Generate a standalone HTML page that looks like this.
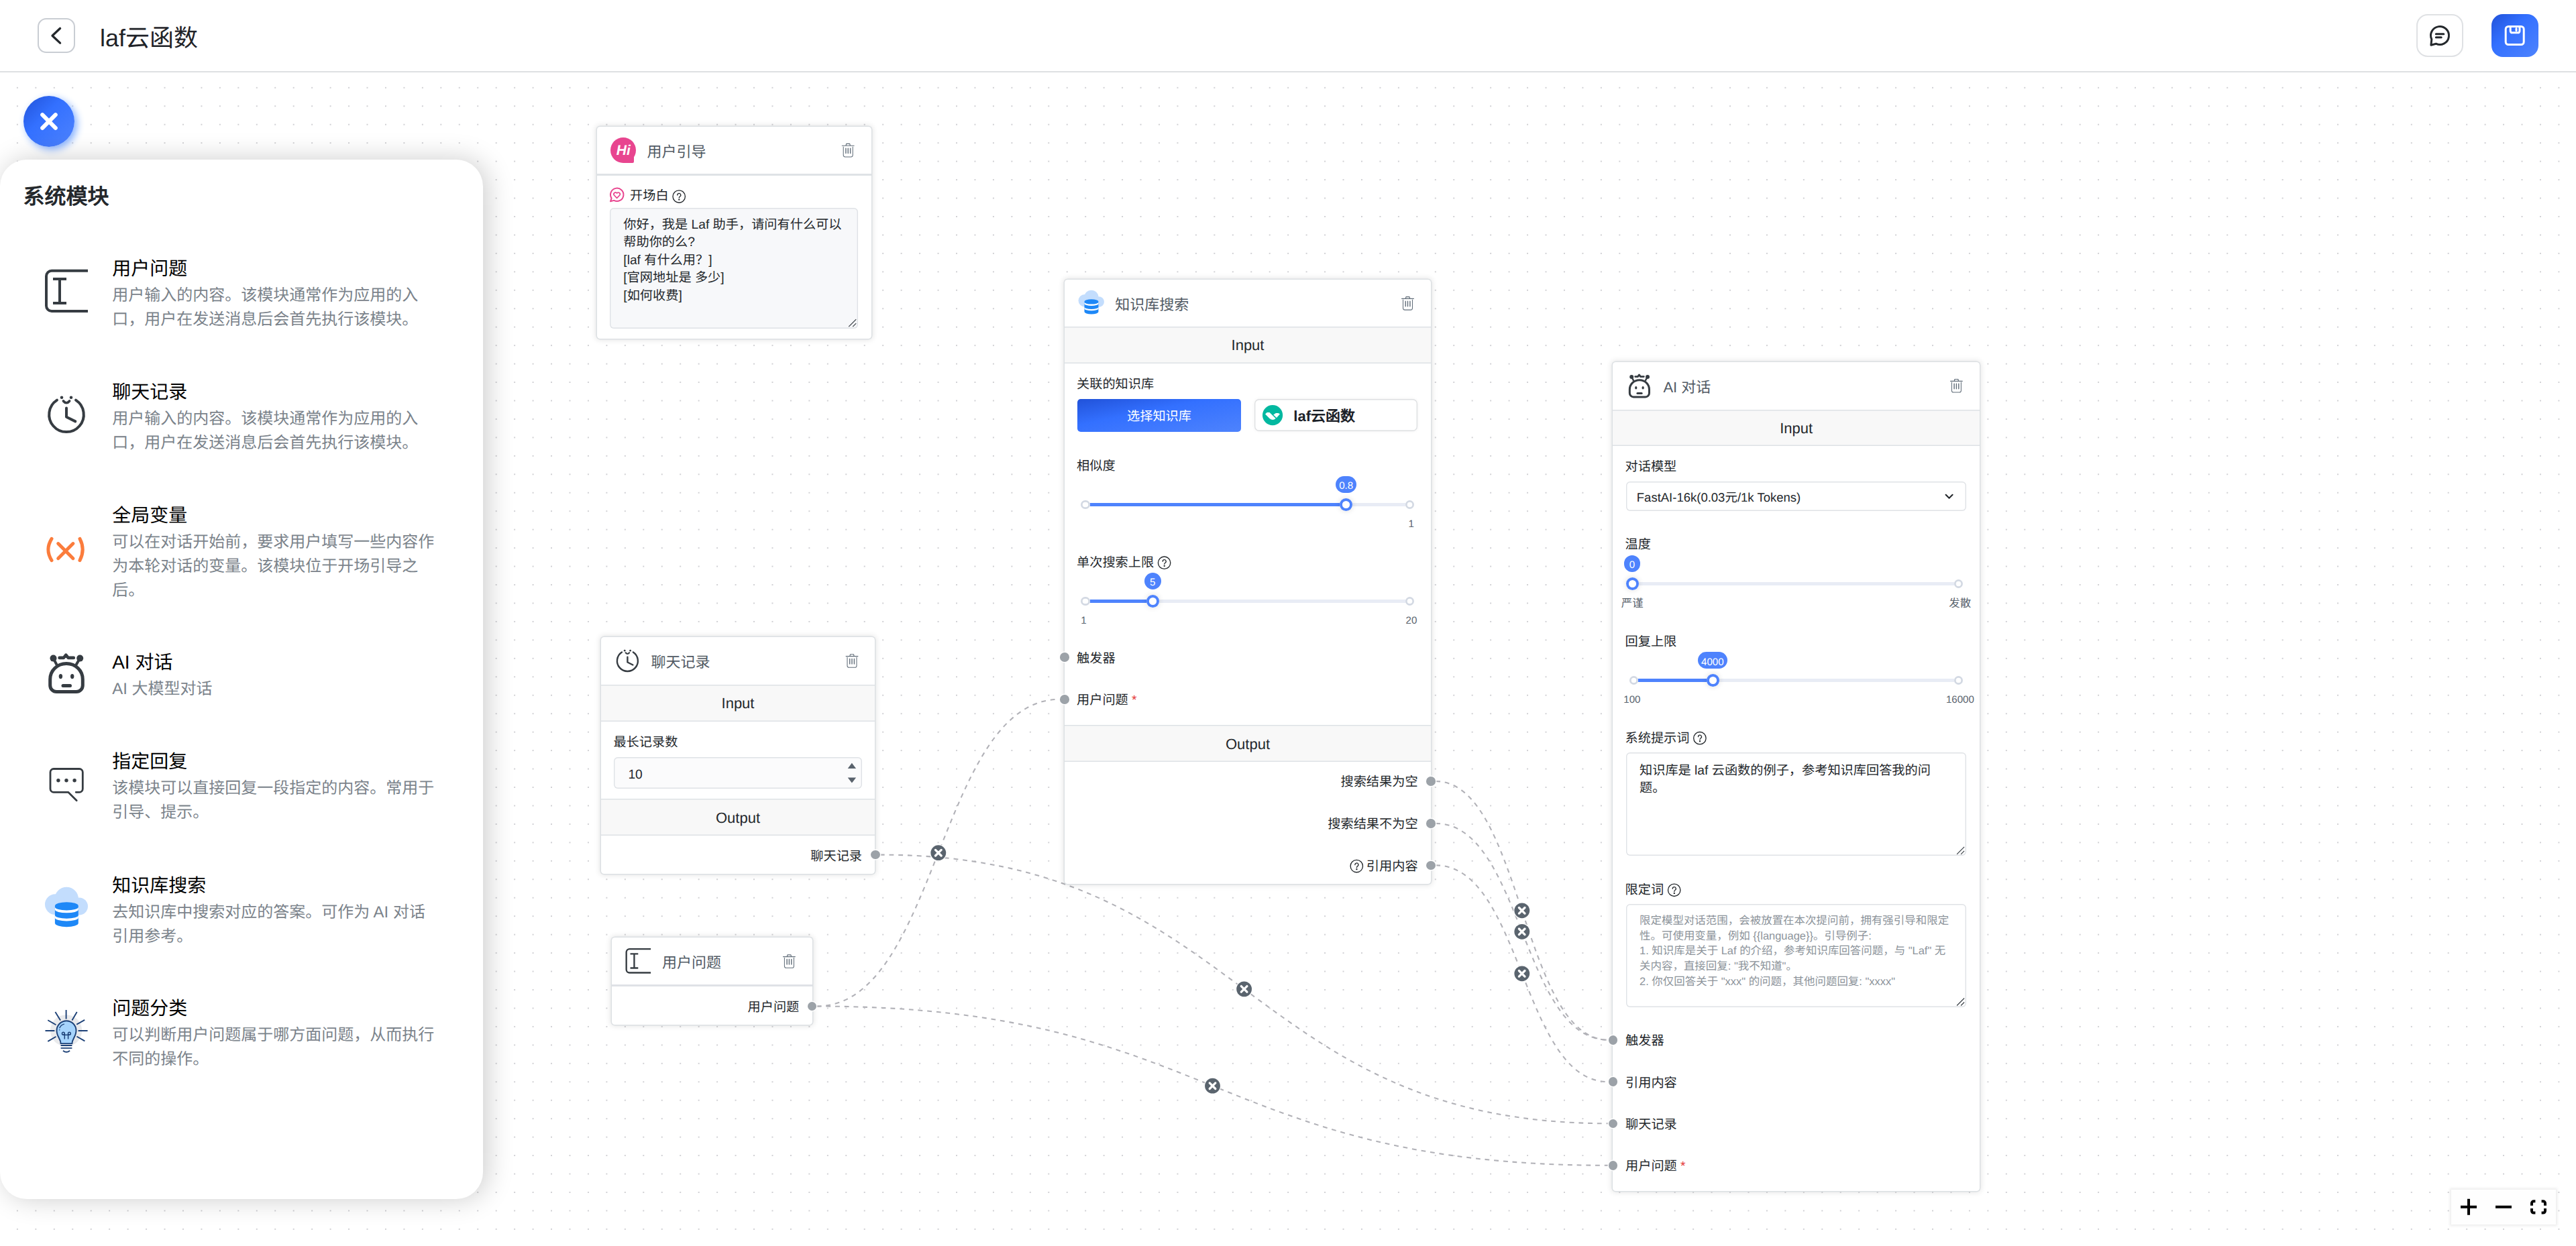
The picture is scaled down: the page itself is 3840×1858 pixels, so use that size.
<!DOCTYPE html>
<html lang="zh-CN">
<head>
<meta charset="utf-8">
<title>laf云函数</title>
<style>
html,body{margin:0;padding:0;}
body{width:3840px;height:1858px;overflow:hidden;background:#fff;position:relative;text-rendering:geometricPrecision;font-family:"Liberation Sans",sans-serif;color:#24282c;}
.t{position:absolute;white-space:nowrap;font-family:"Liberation Sans",sans-serif;}
.t i{display:inline-block;width:1em;text-align:center;font-style:normal;}
.b{position:absolute;box-sizing:border-box;}
svg{position:absolute;left:0;top:0;overflow:visible;}
.node{position:absolute;box-sizing:border-box;background:#fff;border-radius:4.6px;box-shadow:0 0 0 1.45px #dce0e3,0 0 8px 1.45px rgba(0,0,0,0.11);}
.bar{position:absolute;box-sizing:border-box;background:#f8f8f8;box-shadow:inset 0 1.5px 0 #dde1e5,inset 0 -1.5px 0 #dde1e5;}
.hd{position:absolute;width:13.7px;height:13.7px;border-radius:50%;background:#9ca2a8;box-shadow:0 0 0 1.4px #fff;}
.ta{position:absolute;box-sizing:border-box;border-radius:6px;box-shadow:inset 0 0 0 1.4px #dfe2e6;}
</style>
</head>
<body>

<svg width="3840" height="1858" viewBox="0 0 3840 1858">
<defs><pattern id="dots" x="12.173" y="117.074" width="27.453" height="27.453" patternUnits="userSpaceOnUse"><circle cx="13.726" cy="13.726" r="0.78" fill="#91919a"/></pattern></defs>
<rect x="0" y="108" width="3840" height="1750" fill="url(#dots)"/>
<path d="M1311.7,1274.6 C1854.6,1274.6 1854.6,1675.3 2397.4,1675.3" fill="none" stroke="#b1b1b7" stroke-width="2.06" stroke-dasharray="6.86 6.86"/>
<path d="M1217.5,1500.5 C1398.8,1500.5 1398.8,1042.8 1580.0,1042.8" fill="none" stroke="#b1b1b7" stroke-width="2.06" stroke-dasharray="6.86 6.86"/>
<path d="M1217.5,1500.5 C1807.5,1500.5 1807.5,1737.8 2397.4,1737.8" fill="none" stroke="#b1b1b7" stroke-width="2.06" stroke-dasharray="6.86 6.86"/>
<path d="M2140.1,1165.0 C2268.8,1165.0 2268.8,1550.7 2397.4,1550.7" fill="none" stroke="#b1b1b7" stroke-width="2.06" stroke-dasharray="6.86 6.86"/>
<path d="M2140.1,1227.9 C2268.8,1227.9 2268.8,1550.7 2397.4,1550.7" fill="none" stroke="#b1b1b7" stroke-width="2.06" stroke-dasharray="6.86 6.86"/>
<path d="M2140.1,1290.3 C2268.8,1290.3 2268.8,1613.2 2397.4,1613.2" fill="none" stroke="#b1b1b7" stroke-width="2.06" stroke-dasharray="6.86 6.86"/>
</svg>
<div class="node" style="left:889.6px;top:189.0px;width:409.0px;height:315.6px;"></div>
<div class="b" style="left:910.0px;top:205.0px;width:38.0px;height:38.0px;border-radius:50%;background:#e8458f;"></div>
<div class="b" style="left:929.0px;top:226.0px;width:16.2px;height:16.9px;border-radius:0 0 2px 0;background:#e8458f;"></div>
<div class="t" style="left:929.3px;top:212.2px;font-size:21px;line-height:26px;color:#fff;font-weight:bold;transform:translateX(-50%);font-style:italic;">Hi</div>
<div class="t" style="left:964.6px;top:211.0px;font-size:22px;line-height:32px;color:#515a64;"><i>用</i><i>户</i><i>引</i><i>导</i></div>
<div class="b" style="left:889.6px;top:259.0px;width:409.0px;height:2.8px;background:#dfe2e6;"></div>
<div class="t" style="left:939.0px;top:278.7px;font-size:19.2px;line-height:28px;color:#24282c;"><i>开</i><i>场</i><i>白</i></div>
<div class="ta" style="left:909.4px;top:310px;width:369.3px;height:179.7px;background:#f7f8fa;"></div>
<div class="t" style="left:929.3px;top:323.0px;font-size:19.2px;line-height:26px;color:#24282c;"><i>你</i><i>好</i><i>，</i><i>我</i><i>是</i> Laf <i>助</i><i>手</i><i>，</i><i>请</i><i>问</i><i>有</i><i>什</i><i>么</i><i>可</i><i>以</i></div>
<div class="t" style="left:929.3px;top:349.4px;font-size:19.2px;line-height:26px;color:#24282c;"><i>帮</i><i>助</i><i>你</i><i>的</i><i>么</i>?</div>
<div class="t" style="left:929.3px;top:375.8px;font-size:19.2px;line-height:26px;color:#24282c;">[laf <i>有</i><i>什</i><i>么</i><i>用</i><i>？</i>]</div>
<div class="t" style="left:929.3px;top:402.2px;font-size:19.2px;line-height:26px;color:#24282c;">[<i>官</i><i>网</i><i>地</i><i>址</i><i>是</i> <i>多</i><i>少</i>]</div>
<div class="t" style="left:929.3px;top:428.6px;font-size:19.2px;line-height:26px;color:#24282c;">[<i>如</i><i>何</i><i>收</i><i>费</i>]</div>
<div class="node" style="left:1587.2px;top:417.2px;width:545.7px;height:901.2px;"></div>
<div class="t" style="left:1662.2px;top:439.2px;font-size:22px;line-height:32px;color:#515a64;"><i>知</i><i>识</i><i>库</i><i>搜</i><i>索</i></div>
<div class="bar" style="left:1587.2px;top:486.7px;width:545.7px;height:55.0px;"></div>
<div class="t" style="left:1860.0px;top:500.0px;font-size:22px;line-height:30px;color:#24282c;transform:translateX(-50%);">Input</div>
<div class="t" style="left:1605.0px;top:560.0px;font-size:19.2px;line-height:28px;color:#24282c;"><i>关</i><i>联</i><i>的</i><i>知</i><i>识</i><i>库</i></div>
<div class="b" style="left:1606.0px;top:594.6px;width:244.0px;height:49.1px;border-radius:5px;background-image:linear-gradient(to bottom right,#2152d9 0%,#3370ff 40%,#4e83fd 100%);"></div>
<div class="t" style="left:1728.0px;top:607.7px;font-size:19.2px;line-height:28px;color:#fff;transform:translateX(-50%);"><i>选</i><i>择</i><i>知</i><i>识</i><i>库</i></div>
<div class="b" style="left:1870.0px;top:594.9px;width:243.4px;height:48.5px;border-radius:7px;background:#fff;box-shadow:inset 0 0 0 1.4px #dee0e2,0 0 5px rgba(0,0,0,0.06);"></div>
<div class="t" style="left:1928.3px;top:605.6px;font-size:22px;line-height:30px;color:#1c2128;font-weight:bold;">laf<i>云</i><i>函</i><i>数</i></div>
<div class="t" style="left:1605.0px;top:681.9px;font-size:19.2px;line-height:28px;color:#24282c;"><i>相</i><i>似</i><i>度</i></div>
<div class="b" style="left:1615.5px;top:749.8px;width:486.3px;height:5.2px;background:#e8ecf5;border-radius:2.6px;"></div>
<div class="b" style="left:1615.5px;top:749.8px;width:391.4px;height:5.2px;background:#4e83fd;border-radius:2.6px;"></div>
<div class="b" style="left:1611.3px;top:745.7px;width:13.4px;height:13.4px;border-radius:50%;background:#fff;box-shadow:inset 0 0 0 2.7px #d3d9e3;"></div>
<div class="b" style="left:2094.8px;top:745.7px;width:13.4px;height:13.4px;border-radius:50%;background:#fff;box-shadow:inset 0 0 0 2.7px #d3d9e3;"></div>
<div class="b" style="left:1997.4px;top:742.9px;width:19.0px;height:19.0px;border-radius:50%;background:#fff;box-shadow:inset 0 0 0 3.9px #4e83fd,0 0 9px rgba(0,0,0,0.14);"></div>
<div class="b" style="left:1991.2px;top:710.2px;width:31.0px;height:24.9px;border-radius:12.45px;background:#4e83fd;"></div>
<div class="t" style="left:2006.7px;top:715.3px;font-size:15.1px;line-height:20px;color:#fff;transform:translateX(-50%);">0.8</div>
<div class="t" style="left:2103.6px;top:770.8px;font-size:15.1px;line-height:22px;color:#5a646e;transform:translateX(-50%);">1</div>
<div class="t" style="left:1605.0px;top:826.0px;font-size:19.2px;line-height:28px;color:#24282c;"><i>单</i><i>次</i><i>搜</i><i>索</i><i>上</i><i>限</i></div>
<div class="b" style="left:1615.5px;top:893.6px;width:486.3px;height:5.2px;background:#e8ecf5;border-radius:2.6px;"></div>
<div class="b" style="left:1615.5px;top:893.6px;width:103.0px;height:5.2px;background:#4e83fd;border-radius:2.6px;"></div>
<div class="b" style="left:1611.3px;top:889.5px;width:13.4px;height:13.4px;border-radius:50%;background:#fff;box-shadow:inset 0 0 0 2.7px #d3d9e3;"></div>
<div class="b" style="left:2094.8px;top:889.5px;width:13.4px;height:13.4px;border-radius:50%;background:#fff;box-shadow:inset 0 0 0 2.7px #d3d9e3;"></div>
<div class="b" style="left:1709.0px;top:886.7px;width:19.0px;height:19.0px;border-radius:50%;background:#fff;box-shadow:inset 0 0 0 3.9px #4e83fd,0 0 9px rgba(0,0,0,0.14);"></div>
<div class="b" style="left:1706.0px;top:854.0px;width:24.5px;height:24.9px;border-radius:12.45px;background:#4e83fd;"></div>
<div class="t" style="left:1718.3px;top:859.1px;font-size:15.1px;line-height:20px;color:#fff;transform:translateX(-50%);">5</div>
<div class="t" style="left:1615.4px;top:914.6px;font-size:15.1px;line-height:22px;color:#5a646e;transform:translateX(-50%);">1</div>
<div class="t" style="left:2104.0px;top:914.6px;font-size:15.1px;line-height:22px;color:#5a646e;transform:translateX(-50%);">20</div>
<div class="hd" style="left:1580.1px;top:973.4px;"></div>
<div class="t" style="left:1605.0px;top:968.6px;font-size:19.2px;line-height:28px;color:#24282c;"><i>触</i><i>发</i><i>器</i></div>
<div class="hd" style="left:1580.1px;top:1036.0px;"></div>
<div class="t" style="left:1605.0px;top:1031.1px;font-size:19.2px;line-height:28px;color:#24282c;"><i>用</i><i>户</i><i>问</i><i>题</i> <span style="color:#e53e3e;">*</span></div>
<div class="bar" style="left:1587.2px;top:1081.1px;width:545.7px;height:54.6px;"></div>
<div class="t" style="left:1860.0px;top:1095.4px;font-size:22px;line-height:30px;color:#24282c;transform:translateX(-50%);">Output</div>
<div class="t" style="left:2113.6px;top:1153.3px;font-size:19.2px;line-height:28px;color:#24282c;transform:translateX(-100%);"><i>搜</i><i>索</i><i>结</i><i>果</i><i>为</i><i>空</i></div>
<div class="hd" style="left:2126.3px;top:1158.2px;"></div>
<div class="t" style="left:2113.6px;top:1216.2px;font-size:19.2px;line-height:28px;color:#24282c;transform:translateX(-100%);"><i>搜</i><i>索</i><i>结</i><i>果</i><i>不</i><i>为</i><i>空</i></div>
<div class="hd" style="left:2126.3px;top:1221.1px;"></div>
<div class="t" style="left:2113.6px;top:1278.6px;font-size:19.2px;line-height:28px;color:#24282c;transform:translateX(-100%);"><i>引</i><i>用</i><i>内</i><i>容</i></div>
<div class="hd" style="left:2126.3px;top:1283.5px;"></div>
<div class="node" style="left:2404.4px;top:540.1px;width:546.4px;height:1236.0px;"></div>
<div class="t" style="left:2479.4px;top:562.1px;font-size:22px;line-height:32px;color:#515a64;">AI <i>对</i><i>话</i></div>
<div class="bar" style="left:2404.4px;top:610.7px;width:546.4px;height:54.7px;"></div>
<div class="t" style="left:2677.6px;top:624.0px;font-size:22px;line-height:30px;color:#24282c;transform:translateX(-50%);">Input</div>
<div class="t" style="left:2422.5px;top:683.1px;font-size:19.2px;line-height:28px;color:#24282c;"><i>对</i><i>话</i><i>模</i><i>型</i></div>
<div class="ta" style="left:2423.9px;top:718.3px;width:507.2px;height:44.1px;background:#fff;"></div>
<div class="t" style="left:2439.8px;top:729.1px;font-size:18.5px;line-height:26px;color:#24282c;">FastAI-16k(0.03<i>元</i>/1k Tokens)</div>
<div class="t" style="left:2422.5px;top:799.3px;font-size:19.2px;line-height:28px;color:#24282c;"><i>温</i><i>度</i></div>
<div class="b" style="left:2433.0px;top:867.9px;width:486.6px;height:5.2px;background:#e8ecf5;border-radius:2.6px;"></div>
<div class="b" style="left:2912.6px;top:863.8px;width:13.4px;height:13.4px;border-radius:50%;background:#fff;box-shadow:inset 0 0 0 2.7px #d3d9e3;"></div>
<div class="b" style="left:2423.7px;top:861.0px;width:19.0px;height:19.0px;border-radius:50%;background:#fff;box-shadow:inset 0 0 0 3.9px #4e83fd,0 0 9px rgba(0,0,0,0.14);"></div>
<div class="b" style="left:2420.8px;top:828.3px;width:24.5px;height:24.9px;border-radius:12.45px;background:#4e83fd;"></div>
<div class="t" style="left:2433.0px;top:833.4px;font-size:15.1px;line-height:20px;color:#fff;transform:translateX(-50%);">0</div>
<div class="t" style="left:2433.3px;top:888.9px;font-size:16.47px;line-height:22px;color:#5a646e;transform:translateX(-50%);"><i>严</i><i>谨</i></div>
<div class="t" style="left:2921.7px;top:888.9px;font-size:16.47px;line-height:22px;color:#5a646e;transform:translateX(-50%);"><i>发</i><i>散</i></div>
<div class="t" style="left:2422.5px;top:943.6px;font-size:19.2px;line-height:28px;color:#24282c;"><i>回</i><i>复</i><i>上</i><i>限</i></div>
<div class="b" style="left:2433.0px;top:1012.0px;width:486.6px;height:5.2px;background:#e8ecf5;border-radius:2.6px;"></div>
<div class="b" style="left:2433.0px;top:1012.0px;width:120.0px;height:5.2px;background:#4e83fd;border-radius:2.6px;"></div>
<div class="b" style="left:2428.8px;top:1007.9px;width:13.4px;height:13.4px;border-radius:50%;background:#fff;box-shadow:inset 0 0 0 2.7px #d3d9e3;"></div>
<div class="b" style="left:2912.6px;top:1007.9px;width:13.4px;height:13.4px;border-radius:50%;background:#fff;box-shadow:inset 0 0 0 2.7px #d3d9e3;"></div>
<div class="b" style="left:2543.5px;top:1005.1px;width:19.0px;height:19.0px;border-radius:50%;background:#fff;box-shadow:inset 0 0 0 3.9px #4e83fd,0 0 9px rgba(0,0,0,0.14);"></div>
<div class="b" style="left:2530.5px;top:972.4px;width:44.6px;height:24.9px;border-radius:12.45px;background:#4e83fd;"></div>
<div class="t" style="left:2552.8px;top:977.5px;font-size:15.1px;line-height:20px;color:#fff;transform:translateX(-50%);">4000</div>
<div class="t" style="left:2432.9px;top:1033.0px;font-size:15.1px;line-height:22px;color:#5a646e;transform:translateX(-50%);">100</div>
<div class="t" style="left:2921.9px;top:1033.0px;font-size:15.1px;line-height:22px;color:#5a646e;transform:translateX(-50%);">16000</div>
<div class="t" style="left:2422.5px;top:1087.7px;font-size:19.2px;line-height:28px;color:#24282c;"><i>系</i><i>统</i><i>提</i><i>示</i><i>词</i></div>
<div class="ta" style="left:2424.2px;top:1122.0px;width:506.4px;height:154.3px;background:#fff;"></div>
<div class="t" style="left:2444.0px;top:1136.5px;font-size:19.2px;line-height:26px;color:#24282c;"><i>知</i><i>识</i><i>库</i><i>是</i> laf <i>云</i><i>函</i><i>数</i><i>的</i><i>例</i><i>子</i><i>，</i><i>参</i><i>考</i><i>知</i><i>识</i><i>库</i><i>回</i><i>答</i><i>我</i><i>的</i><i>问</i></div>
<div class="t" style="left:2444.0px;top:1163.1px;font-size:19.2px;line-height:26px;color:#24282c;"><i>题</i><i>。</i></div>
<div class="t" style="left:2422.5px;top:1314.3px;font-size:19.2px;line-height:28px;color:#24282c;"><i>限</i><i>定</i><i>词</i></div>
<div class="ta" style="left:2424.2px;top:1348.4px;width:506.4px;height:153.6px;background:#fff;"></div>
<div class="t" style="left:2444.0px;top:1362.3px;font-size:16.47px;line-height:22px;color:#8d949b;"><i>限</i><i>定</i><i>模</i><i>型</i><i>对</i><i>话</i><i>范</i><i>围</i><i>，</i><i>会</i><i>被</i><i>放</i><i>置</i><i>在</i><i>本</i><i>次</i><i>提</i><i>问</i><i>前</i><i>，</i><i>拥</i><i>有</i><i>强</i><i>引</i><i>导</i><i>和</i><i>限</i><i>定</i></div>
<div class="t" style="left:2444.0px;top:1384.8px;font-size:16.47px;line-height:22px;color:#8d949b;"><i>性</i><i>。</i><i>可</i><i>使</i><i>用</i><i>变</i><i>量</i><i>，</i><i>例</i><i>如</i> {{language}}<i>。</i><i>引</i><i>导</i><i>例</i><i>子</i>:</div>
<div class="t" style="left:2444.0px;top:1407.4px;font-size:16.47px;line-height:22px;color:#8d949b;">1. <i>知</i><i>识</i><i>库</i><i>是</i><i>关</i><i>于</i> Laf <i>的</i><i>介</i><i>绍</i><i>，</i><i>参</i><i>考</i><i>知</i><i>识</i><i>库</i><i>回</i><i>答</i><i>问</i><i>题</i><i>，</i><i>与</i> "Laf" <i>无</i></div>
<div class="t" style="left:2444.0px;top:1430.0px;font-size:16.47px;line-height:22px;color:#8d949b;"><i>关</i><i>内</i><i>容</i><i>，</i><i>直</i><i>接</i><i>回</i><i>复</i>: "<i>我</i><i>不</i><i>知</i><i>道</i>"<i>。</i></div>
<div class="t" style="left:2444.0px;top:1452.5px;font-size:16.47px;line-height:22px;color:#8d949b;">2. <i>你</i><i>仅</i><i>回</i><i>答</i><i>关</i><i>于</i> "xxx" <i>的</i><i>问</i><i>题</i><i>，</i><i>其</i><i>他</i><i>问</i><i>题</i><i>回</i><i>复</i>: "xxxx"</div>
<div class="hd" style="left:2397.5px;top:1543.9px;"></div>
<div class="t" style="left:2423.0px;top:1539.0px;font-size:19.2px;line-height:28px;color:#24282c;"><i>触</i><i>发</i><i>器</i></div>
<div class="hd" style="left:2397.5px;top:1606.4px;"></div>
<div class="t" style="left:2423.0px;top:1601.5px;font-size:19.2px;line-height:28px;color:#24282c;"><i>引</i><i>用</i><i>内</i><i>容</i></div>
<div class="hd" style="left:2397.5px;top:1668.5px;"></div>
<div class="t" style="left:2423.0px;top:1663.6px;font-size:19.2px;line-height:28px;color:#24282c;"><i>聊</i><i>天</i><i>记</i><i>录</i></div>
<div class="hd" style="left:2397.5px;top:1731.0px;"></div>
<div class="t" style="left:2423.0px;top:1726.1px;font-size:19.2px;line-height:28px;color:#24282c;"><i>用</i><i>户</i><i>问</i><i>题</i> <span style="color:#e53e3e;">*</span></div>
<div class="node" style="left:895.6px;top:950.4px;width:408.8px;height:352.2px;"></div>
<div class="t" style="left:970.6px;top:972.4px;font-size:22px;line-height:32px;color:#515a64;"><i>聊</i><i>天</i><i>记</i><i>录</i></div>
<div class="bar" style="left:895.6px;top:1020.7px;width:408.8px;height:54.9px;"></div>
<div class="t" style="left:1100.0px;top:1034.0px;font-size:22px;line-height:30px;color:#24282c;transform:translateX(-50%);">Input</div>
<div class="t" style="left:914.4px;top:1093.9px;font-size:19.2px;line-height:28px;color:#24282c;"><i>最</i><i>长</i><i>记</i><i>录</i><i>数</i></div>
<div class="ta" style="left:915.4px;top:1129.1px;width:369.6px;height:46.7px;background:#fbfbfc;"></div>
<div class="t" style="left:936.4px;top:1141.6px;font-size:19.2px;line-height:28px;color:#24282c;">10</div>
<div class="bar" style="left:895.6px;top:1190.7px;width:408.8px;height:55.3px;"></div>
<div class="t" style="left:1100.0px;top:1204.7px;font-size:22px;line-height:30px;color:#24282c;transform:translateX(-50%);">Output</div>
<div class="t" style="left:1285.0px;top:1263.5px;font-size:19.2px;line-height:28px;color:#24282c;transform:translateX(-100%);"><i>聊</i><i>天</i><i>记</i><i>录</i></div>
<div class="hd" style="left:1298.0px;top:1267.8px;"></div>
<div class="node" style="left:912.0px;top:1398.4px;width:298.8px;height:129.7px;"></div>
<div class="t" style="left:987.0px;top:1420.4px;font-size:22px;line-height:32px;color:#515a64;"><i>用</i><i>户</i><i>问</i><i>题</i></div>
<div class="b" style="left:912.0px;top:1468.0px;width:298.8px;height:2.7px;background:#dfe2e6;"></div>
<div class="t" style="left:1191.3px;top:1488.8px;font-size:19.2px;line-height:28px;color:#24282c;transform:translateX(-100%);"><i>用</i><i>户</i><i>问</i><i>题</i></div>
<div class="hd" style="left:1203.8px;top:1493.7px;"></div>
<svg width="3840" height="1858" viewBox="0 0 3840 1858">
<g transform="translate(1264.2,223.9)" fill="none" stroke="#616d79" stroke-linecap="round" stroke-linejoin="round"><path d="M-8.9,-6.7 H8.9 M-3.2,-6.7 L-2.5,-9.5 H2.5 L3.2,-6.7" stroke-width="1.15"/><path d="M-7,-5 V7.4 a2.6,2.6 0 0 0 2.6,2.6 H4.4 a2.6,2.6 0 0 0 2.6,-2.6 V-5" stroke-width="1.05"/><path d="M-3.3,-2.8 V4.7 M0,-2.8 V4.7 M3.4,-2.8 V4.7" stroke-width="1.4"/></g>
<g fill="none" stroke="#e8458f" stroke-width="2" stroke-linejoin="round"><path d="M911.6,295.6 L910,300.3 L915.2,298.9 A9.7,9.7 0 1 0 911.6,295.6 Z"/><path d="M919.6,295.3 L915.4,291.0 a2.55,2.55 0 0 1 4.2,-2.9 a2.55,2.55 0 0 1 4.2,2.9 Z" stroke-width="1.7"/></g>
<g transform="translate(1012.2,293.0)" fill="none" stroke="#24282c" stroke-width="1.35" stroke-linecap="round"><circle cx="0" cy="0" r="9.2"/><path d="M-2.4,-2.0 a2.5,2.5 0 1 1 3.8,2.0 c-0.9,0.6 -1.3,1.1 -1.3,2.1" stroke-width="1.3"/><circle cx="0.1" cy="4.6" r="0.5" fill="#24282c"/></g>
<path d="M1265.2,487.2 L1276.2,476.2 M1271.2,487.2 L1276.2,482.2" stroke="#3c4248" stroke-width="1.2" fill="none"/>
<g transform="translate(1606.95,432.00) scale(0.6000)"><circle cx="33.2" cy="19" r="17.8" fill="#c3ddfd"/><circle cx="16.4" cy="27.1" r="15.4" fill="#c3ddfd"/><circle cx="52" cy="30" r="13" fill="#c3ddfd"/><rect x="16.4" y="28" width="35.6" height="15" fill="#c3ddfd"/><path d="M15.9,29.4 A17.45,5.7 0 0 1 50.8,29.4 V55.1 A17.45,5.6 0 0 1 15.9,55.1 Z" fill="#1e88f7"/><path d="M15.9,30.95 A17.45,5 0 0 0 50.8,30.95 V34.85 A17.45,5 0 0 1 15.9,34.85 Z M15.9,43.15 A17.45,5 0 0 0 50.8,43.15 V47.05 A17.45,5 0 0 1 15.9,47.05 Z" fill="#fff"/></g>
<g transform="translate(2098.5,452.1)" fill="none" stroke="#616d79" stroke-linecap="round" stroke-linejoin="round"><path d="M-8.9,-6.7 H8.9 M-3.2,-6.7 L-2.5,-9.5 H2.5 L3.2,-6.7" stroke-width="1.15"/><path d="M-7,-5 V7.4 a2.6,2.6 0 0 0 2.6,2.6 H4.4 a2.6,2.6 0 0 0 2.6,-2.6 V-5" stroke-width="1.05"/><path d="M-3.3,-2.8 V4.7 M0,-2.8 V4.7 M3.4,-2.8 V4.7" stroke-width="1.4"/></g>
<circle cx="1897.05" cy="619.1" r="15.1" fill="#02b8a0"/><path d="M1886.05,617.5 L1888.7,614.9 H1892.5 L1901.7,624 Q1899.6,626.1 1897.3,626.1 Q1894.8,626.1 1892.5,624.1 Z" fill="#fff"/><path d="M1898.3,618.5 L1901.9,615.9 H1905.3 L1908,617.2 L1903,623 Z" fill="#fff"/>
<g transform="translate(1735.6,839.2)" fill="none" stroke="#24282c" stroke-width="1.35" stroke-linecap="round"><circle cx="0" cy="0" r="9.2"/><path d="M-2.4,-2.0 a2.5,2.5 0 1 1 3.8,2.0 c-0.9,0.6 -1.3,1.1 -1.3,2.1" stroke-width="1.3"/><circle cx="0.1" cy="4.6" r="0.5" fill="#24282c"/></g>
<g transform="translate(2022.3,1291.6)" fill="none" stroke="#24282c" stroke-width="1.35" stroke-linecap="round"><circle cx="0" cy="0" r="9.2"/><path d="M-2.4,-2.0 a2.5,2.5 0 1 1 3.8,2.0 c-0.9,0.6 -1.3,1.1 -1.3,2.1" stroke-width="1.3"/><circle cx="0.1" cy="4.6" r="0.5" fill="#24282c"/></g>
<g transform="translate(2424.10,555.60) scale(0.6000)"><path d="M8.7,51 V42 C8.7,29 19,18.6 33,18.6 C47,18.6 57.3,29 57.3,42 V51 a9.5,9.5 0 0 1 -9.5,9.5 H18.2 a9.5,9.5 0 0 1 -9.5,-9.5 Z" fill="none" stroke="#363c42" stroke-width="5"/><circle cx="13.5" cy="10.6" r="5" fill="#363c42"/><circle cx="53.2" cy="10.6" r="5" fill="#363c42"/><path d="M13.5,10.6 L18.6,20.4 M53.2,10.6 L47.4,20.4" fill="none" stroke="#363c42" stroke-width="4"/><path d="M22.6,9.9 H28.9 L32.3,5.6 L35.7,9.9 H43.8" fill="none" stroke="#363c42" stroke-width="4.6" stroke-linecap="round" stroke-linejoin="round"/><ellipse cx="24.4" cy="37.6" rx="2.7" ry="3.7" fill="#363c42"/><ellipse cx="41.7" cy="37.6" rx="2.7" ry="3.7" fill="#363c42"/><path d="M28,51.4 H38.5" fill="none" stroke="#363c42" stroke-width="5" stroke-linecap="round"/></g>
<g transform="translate(2916.4,575.0)" fill="none" stroke="#616d79" stroke-linecap="round" stroke-linejoin="round"><path d="M-8.9,-6.7 H8.9 M-3.2,-6.7 L-2.5,-9.5 H2.5 L3.2,-6.7" stroke-width="1.15"/><path d="M-7,-5 V7.4 a2.6,2.6 0 0 0 2.6,2.6 H4.4 a2.6,2.6 0 0 0 2.6,-2.6 V-5" stroke-width="1.05"/><path d="M-3.3,-2.8 V4.7 M0,-2.8 V4.7 M3.4,-2.8 V4.7" stroke-width="1.4"/></g>
<path d="M2900.6,737.8 L2905.6,742.8 L2910.6,737.8" fill="none" stroke="#24282c" stroke-width="2.1" stroke-linecap="round" stroke-linejoin="round"/>
<g transform="translate(2533.9,1100.7)" fill="none" stroke="#24282c" stroke-width="1.35" stroke-linecap="round"><circle cx="0" cy="0" r="9.2"/><path d="M-2.4,-2.0 a2.5,2.5 0 1 1 3.8,2.0 c-0.9,0.6 -1.3,1.1 -1.3,2.1" stroke-width="1.3"/><circle cx="0.1" cy="4.6" r="0.5" fill="#24282c"/></g>
<path d="M2917.1,1273.8 L2928.1,1262.8 M2923.1,1273.8 L2928.1,1268.8" stroke="#3c4248" stroke-width="1.2" fill="none"/>
<g transform="translate(2495.7,1327.3)" fill="none" stroke="#24282c" stroke-width="1.35" stroke-linecap="round"><circle cx="0" cy="0" r="9.2"/><path d="M-2.4,-2.0 a2.5,2.5 0 1 1 3.8,2.0 c-0.9,0.6 -1.3,1.1 -1.3,2.1" stroke-width="1.3"/><circle cx="0.1" cy="4.6" r="0.5" fill="#24282c"/></g>
<path d="M2917.1,1499.5 L2928.1,1488.5 M2923.1,1499.5 L2928.1,1494.5" stroke="#3c4248" stroke-width="1.2" fill="none"/>
<g transform="translate(915.60,966.10) scale(0.6000)"><path d="M47.05,10.66 A25.8,25.8 0 1 1 18.95,10.66" fill="none" stroke="#363c42" stroke-width="4" stroke-linecap="round"/><circle cx="26" cy="6.8" r="2.3" fill="#363c42"/><circle cx="40" cy="6.8" r="2.3" fill="#363c42"/><path d="M28.4,12 Q33,17.6 37.6,12" fill="none" stroke="#363c42" stroke-width="3.6" stroke-linecap="round"/><path d="M33,22.6 V35.7 L46.3,42.4" fill="none" stroke="#363c42" stroke-width="4" stroke-linecap="round" stroke-linejoin="round"/></g>
<g transform="translate(1270.0,985.3)" fill="none" stroke="#616d79" stroke-linecap="round" stroke-linejoin="round"><path d="M-8.9,-6.7 H8.9 M-3.2,-6.7 L-2.5,-9.5 H2.5 L3.2,-6.7" stroke-width="1.15"/><path d="M-7,-5 V7.4 a2.6,2.6 0 0 0 2.6,2.6 H4.4 a2.6,2.6 0 0 0 2.6,-2.6 V-5" stroke-width="1.05"/><path d="M-3.3,-2.8 V4.7 M0,-2.8 V4.7 M3.4,-2.8 V4.7" stroke-width="1.4"/></g>
<path d="M1263.7,1146 L1269.9,1137.8 L1276.1,1146 Z M1263.7,1159.4 L1269.9,1167.6 L1276.1,1159.4 Z" fill="#59626c"/>
<g transform="translate(931.90,1412.90) scale(0.5880)"><path d="M65,3.8 H11 a8,8 0 0 0 -8,8 V56 a8,8 0 0 0 8,8 H65" fill="none" stroke="#363c42" stroke-width="4"/><path d="M13,16.1 H33 M13,52 H33 M23,16.1 V52" fill="none" stroke="#363c42" stroke-width="4"/></g>
<g transform="translate(1176.4,1433.3)" fill="none" stroke="#616d79" stroke-linecap="round" stroke-linejoin="round"><path d="M-8.9,-6.7 H8.9 M-3.2,-6.7 L-2.5,-9.5 H2.5 L3.2,-6.7" stroke-width="1.15"/><path d="M-7,-5 V7.4 a2.6,2.6 0 0 0 2.6,2.6 H4.4 a2.6,2.6 0 0 0 2.6,-2.6 V-5" stroke-width="1.05"/><path d="M-3.3,-2.8 V4.7 M0,-2.8 V4.7 M3.4,-2.8 V4.7" stroke-width="1.4"/></g>
<circle cx="1854.6" cy="1474.9" r="12.6" fill="#fff"/><circle cx="1854.6" cy="1474.9" r="11.4" fill="#5a646e"/><path d="M1850.3,1470.6 l8.6,8.6 m0,-8.6 l-8.6,8.6" stroke="#fff" stroke-width="3.3" stroke-linecap="round" fill="none"/>
<circle cx="1398.8" cy="1271.7" r="12.6" fill="#fff"/><circle cx="1398.8" cy="1271.7" r="11.4" fill="#5a646e"/><path d="M1394.5,1267.4 l8.6,8.6 m0,-8.6 l-8.6,8.6" stroke="#fff" stroke-width="3.3" stroke-linecap="round" fill="none"/>
<circle cx="1807.5" cy="1619.2" r="12.6" fill="#fff"/><circle cx="1807.5" cy="1619.2" r="11.4" fill="#5a646e"/><path d="M1803.2,1614.9 l8.6,8.6 m0,-8.6 l-8.6,8.6" stroke="#fff" stroke-width="3.3" stroke-linecap="round" fill="none"/>
<circle cx="2268.8" cy="1357.8" r="12.6" fill="#fff"/><circle cx="2268.8" cy="1357.8" r="11.4" fill="#5a646e"/><path d="M2264.4,1353.5 l8.6,8.6 m0,-8.6 l-8.6,8.6" stroke="#fff" stroke-width="3.3" stroke-linecap="round" fill="none"/>
<circle cx="2268.8" cy="1389.3" r="12.6" fill="#fff"/><circle cx="2268.8" cy="1389.3" r="11.4" fill="#5a646e"/><path d="M2264.4,1385.0 l8.6,8.6 m0,-8.6 l-8.6,8.6" stroke="#fff" stroke-width="3.3" stroke-linecap="round" fill="none"/>
<circle cx="2268.8" cy="1451.8" r="12.6" fill="#fff"/><circle cx="2268.8" cy="1451.8" r="11.4" fill="#5a646e"/><path d="M2264.4,1447.5 l8.6,8.6 m0,-8.6 l-8.6,8.6" stroke="#fff" stroke-width="3.3" stroke-linecap="round" fill="none"/>
</svg>
<div class="b" style="left:0;top:0;width:3840px;height:108px;background:#fff;border-bottom:2px solid #dee0e2;"></div>
<div class="b" style="left:56.0px;top:27.0px;width:56.0px;height:52.0px;border:2px solid #c9cdd3;border-radius:13px;background:#fff;"></div>
<div class="t" style="left:149.0px;top:29.5px;font-size:36px;line-height:54px;color:#1f2328;">laf<i>云</i><i>函</i><i>数</i></div>
<div class="b" style="left:3602.0px;top:21.0px;width:70.0px;height:64.0px;border:2px solid #dfe1e4;border-radius:17px;background:#fff;"></div>
<div class="b" style="left:3714.0px;top:21.0px;width:70.0px;height:64.0px;border-radius:17px;background-image:linear-gradient(to bottom right,#2152d9 0%,#3370ff 40%,#4e83fd 100%);"></div>
<div class="b" style="left:35.0px;top:143.0px;width:76.0px;height:76.0px;border-radius:50%;background-image:linear-gradient(to bottom right,#2152d9 0%,#3370ff 40%,#4e83fd 100%);box-shadow:4px 4px 12px #85b1ff;"></div>
<div class="b" style="left:0.0px;top:238.0px;width:720.0px;height:1550.0px;background:#fff;border-radius:40px;box-shadow:6px 0 40px rgba(0,0,0,0.2);"></div>
<div class="t" style="left:34.6px;top:268.8px;font-size:32px;line-height:48px;color:#24282c;font-weight:bold;"><i>系</i><i>统</i><i>模</i><i>块</i></div>
<div class="t" style="left:167.2px;top:380.1px;font-size:28px;line-height:42px;color:#000;"><i>用</i><i>户</i><i>问</i><i>题</i></div>
<div class="t" style="left:167.2px;top:423.0px;font-size:24px;line-height:36px;color:#7b838b;"><i>用</i><i>户</i><i>输</i><i>入</i><i>的</i><i>内</i><i>容</i><i>。</i><i>该</i><i>模</i><i>块</i><i>通</i><i>常</i><i>作</i><i>为</i><i>应</i><i>用</i><i>的</i><i>入</i></div>
<div class="t" style="left:167.2px;top:459.0px;font-size:24px;line-height:36px;color:#7b838b;"><i>口</i><i>，</i><i>用</i><i>户</i><i>在</i><i>发</i><i>送</i><i>消</i><i>息</i><i>后</i><i>会</i><i>首</i><i>先</i><i>执</i><i>行</i><i>该</i><i>模</i><i>块</i><i>。</i></div>
<div class="t" style="left:167.2px;top:564.1px;font-size:28px;line-height:42px;color:#000;"><i>聊</i><i>天</i><i>记</i><i>录</i></div>
<div class="t" style="left:167.2px;top:607.0px;font-size:24px;line-height:36px;color:#7b838b;"><i>用</i><i>户</i><i>输</i><i>入</i><i>的</i><i>内</i><i>容</i><i>。</i><i>该</i><i>模</i><i>块</i><i>通</i><i>常</i><i>作</i><i>为</i><i>应</i><i>用</i><i>的</i><i>入</i></div>
<div class="t" style="left:167.2px;top:643.0px;font-size:24px;line-height:36px;color:#7b838b;"><i>口</i><i>，</i><i>用</i><i>户</i><i>在</i><i>发</i><i>送</i><i>消</i><i>息</i><i>后</i><i>会</i><i>首</i><i>先</i><i>执</i><i>行</i><i>该</i><i>模</i><i>块</i><i>。</i></div>
<div class="t" style="left:167.2px;top:747.6px;font-size:28px;line-height:42px;color:#000;"><i>全</i><i>局</i><i>变</i><i>量</i></div>
<div class="t" style="left:167.2px;top:790.5px;font-size:24px;line-height:36px;color:#7b838b;"><i>可</i><i>以</i><i>在</i><i>对</i><i>话</i><i>开</i><i>始</i><i>前</i><i>，</i><i>要</i><i>求</i><i>用</i><i>户</i><i>填</i><i>写</i><i>一</i><i>些</i><i>内</i><i>容</i><i>作</i></div>
<div class="t" style="left:167.2px;top:826.5px;font-size:24px;line-height:36px;color:#7b838b;"><i>为</i><i>本</i><i>轮</i><i>对</i><i>话</i><i>的</i><i>变</i><i>量</i><i>。</i><i>该</i><i>模</i><i>块</i><i>位</i><i>于</i><i>开</i><i>场</i><i>引</i><i>导</i><i>之</i></div>
<div class="t" style="left:167.2px;top:862.5px;font-size:24px;line-height:36px;color:#7b838b;"><i>后</i><i>。</i></div>
<div class="t" style="left:167.2px;top:967.1px;font-size:28px;line-height:42px;color:#000;">AI <i>对</i><i>话</i></div>
<div class="t" style="left:167.2px;top:1010.0px;font-size:24px;line-height:36px;color:#7b838b;">AI <i>大</i><i>模</i><i>型</i><i>对</i><i>话</i></div>
<div class="t" style="left:167.2px;top:1115.1px;font-size:28px;line-height:42px;color:#000;"><i>指</i><i>定</i><i>回</i><i>复</i></div>
<div class="t" style="left:167.2px;top:1158.0px;font-size:24px;line-height:36px;color:#7b838b;"><i>该</i><i>模</i><i>块</i><i>可</i><i>以</i><i>直</i><i>接</i><i>回</i><i>复</i><i>一</i><i>段</i><i>指</i><i>定</i><i>的</i><i>内</i><i>容</i><i>。</i><i>常</i><i>用</i><i>于</i></div>
<div class="t" style="left:167.2px;top:1194.0px;font-size:24px;line-height:36px;color:#7b838b;"><i>引</i><i>导</i><i>、</i><i>提</i><i>示</i><i>。</i></div>
<div class="t" style="left:167.2px;top:1299.6px;font-size:28px;line-height:42px;color:#000;"><i>知</i><i>识</i><i>库</i><i>搜</i><i>索</i></div>
<div class="t" style="left:167.2px;top:1342.5px;font-size:24px;line-height:36px;color:#7b838b;"><i>去</i><i>知</i><i>识</i><i>库</i><i>中</i><i>搜</i><i>索</i><i>对</i><i>应</i><i>的</i><i>答</i><i>案</i><i>。</i><i>可</i><i>作</i><i>为</i> AI <i>对</i><i>话</i></div>
<div class="t" style="left:167.2px;top:1378.5px;font-size:24px;line-height:36px;color:#7b838b;"><i>引</i><i>用</i><i>参</i><i>考</i><i>。</i></div>
<div class="t" style="left:167.2px;top:1483.1px;font-size:28px;line-height:42px;color:#000;"><i>问</i><i>题</i><i>分</i><i>类</i></div>
<div class="t" style="left:167.2px;top:1526.0px;font-size:24px;line-height:36px;color:#7b838b;"><i>可</i><i>以</i><i>判</i><i>断</i><i>用</i><i>户</i><i>问</i><i>题</i><i>属</i><i>于</i><i>哪</i><i>方</i><i>面</i><i>问</i><i>题</i><i>，</i><i>从</i><i>而</i><i>执</i><i>行</i></div>
<div class="t" style="left:167.2px;top:1562.0px;font-size:24px;line-height:36px;color:#7b838b;"><i>不</i><i>同</i><i>的</i><i>操</i><i>作</i><i>。</i></div>
<svg width="3840" height="1858" viewBox="0 0 3840 1858">
<g transform="translate(66.00,400.00) scale(1.0000)"><path d="M65,3.8 H11 a8,8 0 0 0 -8,8 V56 a8,8 0 0 0 8,8 H65" fill="none" stroke="#363c42" stroke-width="4"/><path d="M13,16.1 H33 M13,52 H33 M23,16.1 V52" fill="none" stroke="#363c42" stroke-width="4"/></g>
<g transform="translate(66.00,586.00) scale(1.0000)"><path d="M47.05,10.66 A25.8,25.8 0 1 1 18.95,10.66" fill="none" stroke="#363c42" stroke-width="4" stroke-linecap="round"/><circle cx="26" cy="6.8" r="2.3" fill="#363c42"/><circle cx="40" cy="6.8" r="2.3" fill="#363c42"/><path d="M28.4,12 Q33,17.6 37.6,12" fill="none" stroke="#363c42" stroke-width="3.6" stroke-linecap="round"/><path d="M33,22.6 V35.7 L46.3,42.4" fill="none" stroke="#363c42" stroke-width="4" stroke-linecap="round" stroke-linejoin="round"/></g>
<g transform="translate(66.00,787.50) scale(1.0000)"><path d="M11,15.9 Q0.8,32 11,48.1 M53,15.9 Q61.4,32 53,48.1 M20.7,23.1 L42.9,45.2 M42.9,23.1 L20.7,45.2" fill="none" stroke="#fb7c3c" stroke-width="5" stroke-linecap="round"/></g>
<g transform="translate(66.00,971.00) scale(1.0000)"><path d="M8.7,51 V42 C8.7,29 19,18.6 33,18.6 C47,18.6 57.3,29 57.3,42 V51 a9.5,9.5 0 0 1 -9.5,9.5 H18.2 a9.5,9.5 0 0 1 -9.5,-9.5 Z" fill="none" stroke="#363c42" stroke-width="5"/><circle cx="13.5" cy="10.6" r="5" fill="#363c42"/><circle cx="53.2" cy="10.6" r="5" fill="#363c42"/><path d="M13.5,10.6 L18.6,20.4 M53.2,10.6 L47.4,20.4" fill="none" stroke="#363c42" stroke-width="4"/><path d="M22.6,9.9 H28.9 L32.3,5.6 L35.7,9.9 H43.8" fill="none" stroke="#363c42" stroke-width="4.6" stroke-linecap="round" stroke-linejoin="round"/><ellipse cx="24.4" cy="37.6" rx="2.7" ry="3.7" fill="#363c42"/><ellipse cx="41.7" cy="37.6" rx="2.7" ry="3.7" fill="#363c42"/><path d="M28,51.4 H38.5" fill="none" stroke="#363c42" stroke-width="5" stroke-linecap="round"/></g>
<g transform="translate(66.00,1137.00) scale(1.0000)"><path d="M47.2,44.3 H52.3 a5,5 0 0 0 5,-5 V14.5 a5,5 0 0 0 -5,-5 H14 a5,5 0 0 0 -5,5 V39.3 a5,5 0 0 0 5,5 H35.7 L48.2,56.8" fill="none" stroke="#363c42" stroke-width="2.8" stroke-linecap="round" stroke-linejoin="round"/><circle cx="20.9" cy="26.8" r="2.7" fill="#363c42"/><circle cx="33" cy="26.8" r="2.7" fill="#363c42"/><circle cx="45.1" cy="26.8" r="2.7" fill="#363c42"/></g>
<g transform="translate(66.00,1321.50) scale(1.0000)"><circle cx="33.2" cy="19" r="17.8" fill="#c3ddfd"/><circle cx="16.4" cy="27.1" r="15.4" fill="#c3ddfd"/><circle cx="52" cy="30" r="13" fill="#c3ddfd"/><rect x="16.4" y="28" width="35.6" height="15" fill="#c3ddfd"/><path d="M15.9,29.4 A17.45,5.7 0 0 1 50.8,29.4 V55.1 A17.45,5.6 0 0 1 15.9,55.1 Z" fill="#1e88f7"/><path d="M15.9,30.95 A17.45,5 0 0 0 50.8,30.95 V34.85 A17.45,5 0 0 1 15.9,34.85 Z M15.9,43.15 A17.45,5 0 0 0 50.8,43.15 V47.05 A17.45,5 0 0 1 15.9,47.05 Z" fill="#fff"/></g>
<g transform="translate(66.00,1505.00) scale(1.0000)"><circle cx="32.6" cy="31.8" r="23.6" fill="#e9eaec"/><path d="M32.6,1.0 L32.6,14.5 M16.4,3.9 L24.1,16.4 M48.7,3.9 L41.4,16.4 M5.3,16.2 L17.5,23.2 M60.2,15.9 L48.2,22.7 M1.5,32.0 L15.4,32.0 M50.6,32.0 L64.6,32.0 M5.3,47.9 L17.5,40.7 M60.4,47.3 L48.4,40.5" fill="none" stroke="#1d4177" stroke-width="1.9"/><path d="M24.6,51.1 C24.6,44 18.5,41 18.5,31.8 A14.5,14.5 0 1 1 47.5,31.8 C47.5,41 41.4,44 41.4,51.1 Z" fill="#a6d4fc" stroke="#1d4177" stroke-width="1.9"/><path d="M24.6,54 H41.4 M24.6,57.9 H41.4 M28,61.7 Q33,66 38.1,61.7" fill="none" stroke="#1d4177" stroke-width="1.9"/><circle cx="28.4" cy="36.2" r="1.9" fill="none" stroke="#1d4177" stroke-width="1.5"/><circle cx="37.4" cy="36.2" r="1.9" fill="none" stroke="#1d4177" stroke-width="1.5"/><path d="M30.3,36.8 V44.4 M35.6,36.8 V44.4 M28.4,38.2 H37.4" fill="none" stroke="#1d4177" stroke-width="1.5"/><path d="M22.9,27.8 Q24.5,23.4 29.4,22.1" fill="none" stroke="#1d4177" stroke-width="1.4" stroke-linecap="round"/><circle cx="22.7" cy="30.8" r="0.8" fill="#1d4177"/></g>
<path d="M89.6,42.3 L78,53.2 L89.6,64.1" fill="none" stroke="#24282c" stroke-width="3.3" stroke-linecap="round" stroke-linejoin="round"/>
<path d="M63.2,171.2 L82.8,190.8 M82.8,171.2 L63.2,190.8" fill="none" stroke="#fff" stroke-width="6" stroke-linecap="round"/>
<path d="M3624.8,58.7 L3623.9,67.2 L3631.3,65.2 A13.5,13.5 0 1 0 3624.8,58.7 Z M3631.3,50.8 H3642.8 M3631.3,55.7 H3639.2" fill="none" stroke="#24282c" stroke-width="3" stroke-linecap="round" stroke-linejoin="round"/>
<path d="M3739.2,39.5 H3758.2 a4,4 0 0 1 4,4 V62.5 a4,4 0 0 1 -4,4 H3739.2 a4,4 0 0 1 -4,-4 V43.5 a4,4 0 0 1 4,-4 Z M3742.2,39.5 V46.3 a2.5,2.5 0 0 0 2.5,2.5 H3753.5 a2.5,2.5 0 0 0 2.5,-2.5 V39.5 M3751,42.6 V45.6" fill="none" stroke="#fff" stroke-width="3" stroke-linecap="round" stroke-linejoin="round"/>
</svg>
<div class="b" style="left:3654.0px;top:1774.0px;width:156.0px;height:52.0px;background:#fefefe;box-shadow:0 0 4px 2px rgba(0,0,0,0.08);"></div>
<svg width="3840" height="1858" viewBox="0 0 3840 1858"><path d="M3668,1799.8 H3692 M3680,1787.8 V1811.8 M3720,1799.8 H3744" stroke="#000" stroke-width="4" fill="none"/><path d="M3774,1797.7 V1794.2 a3,3 0 0 1 3,-3 H3779.4 M3788.6,1791.2 H3791 a3,3 0 0 1 3,3 V1797.7 M3794,1802.1 V1805.6 a3,3 0 0 1 -3,3 H3788.6 M3779.4,1808.6 H3777 a3,3 0 0 1 -3,-3 V1802.1" stroke="#000" stroke-width="4" fill="none"/></svg>
</body>
</html>
